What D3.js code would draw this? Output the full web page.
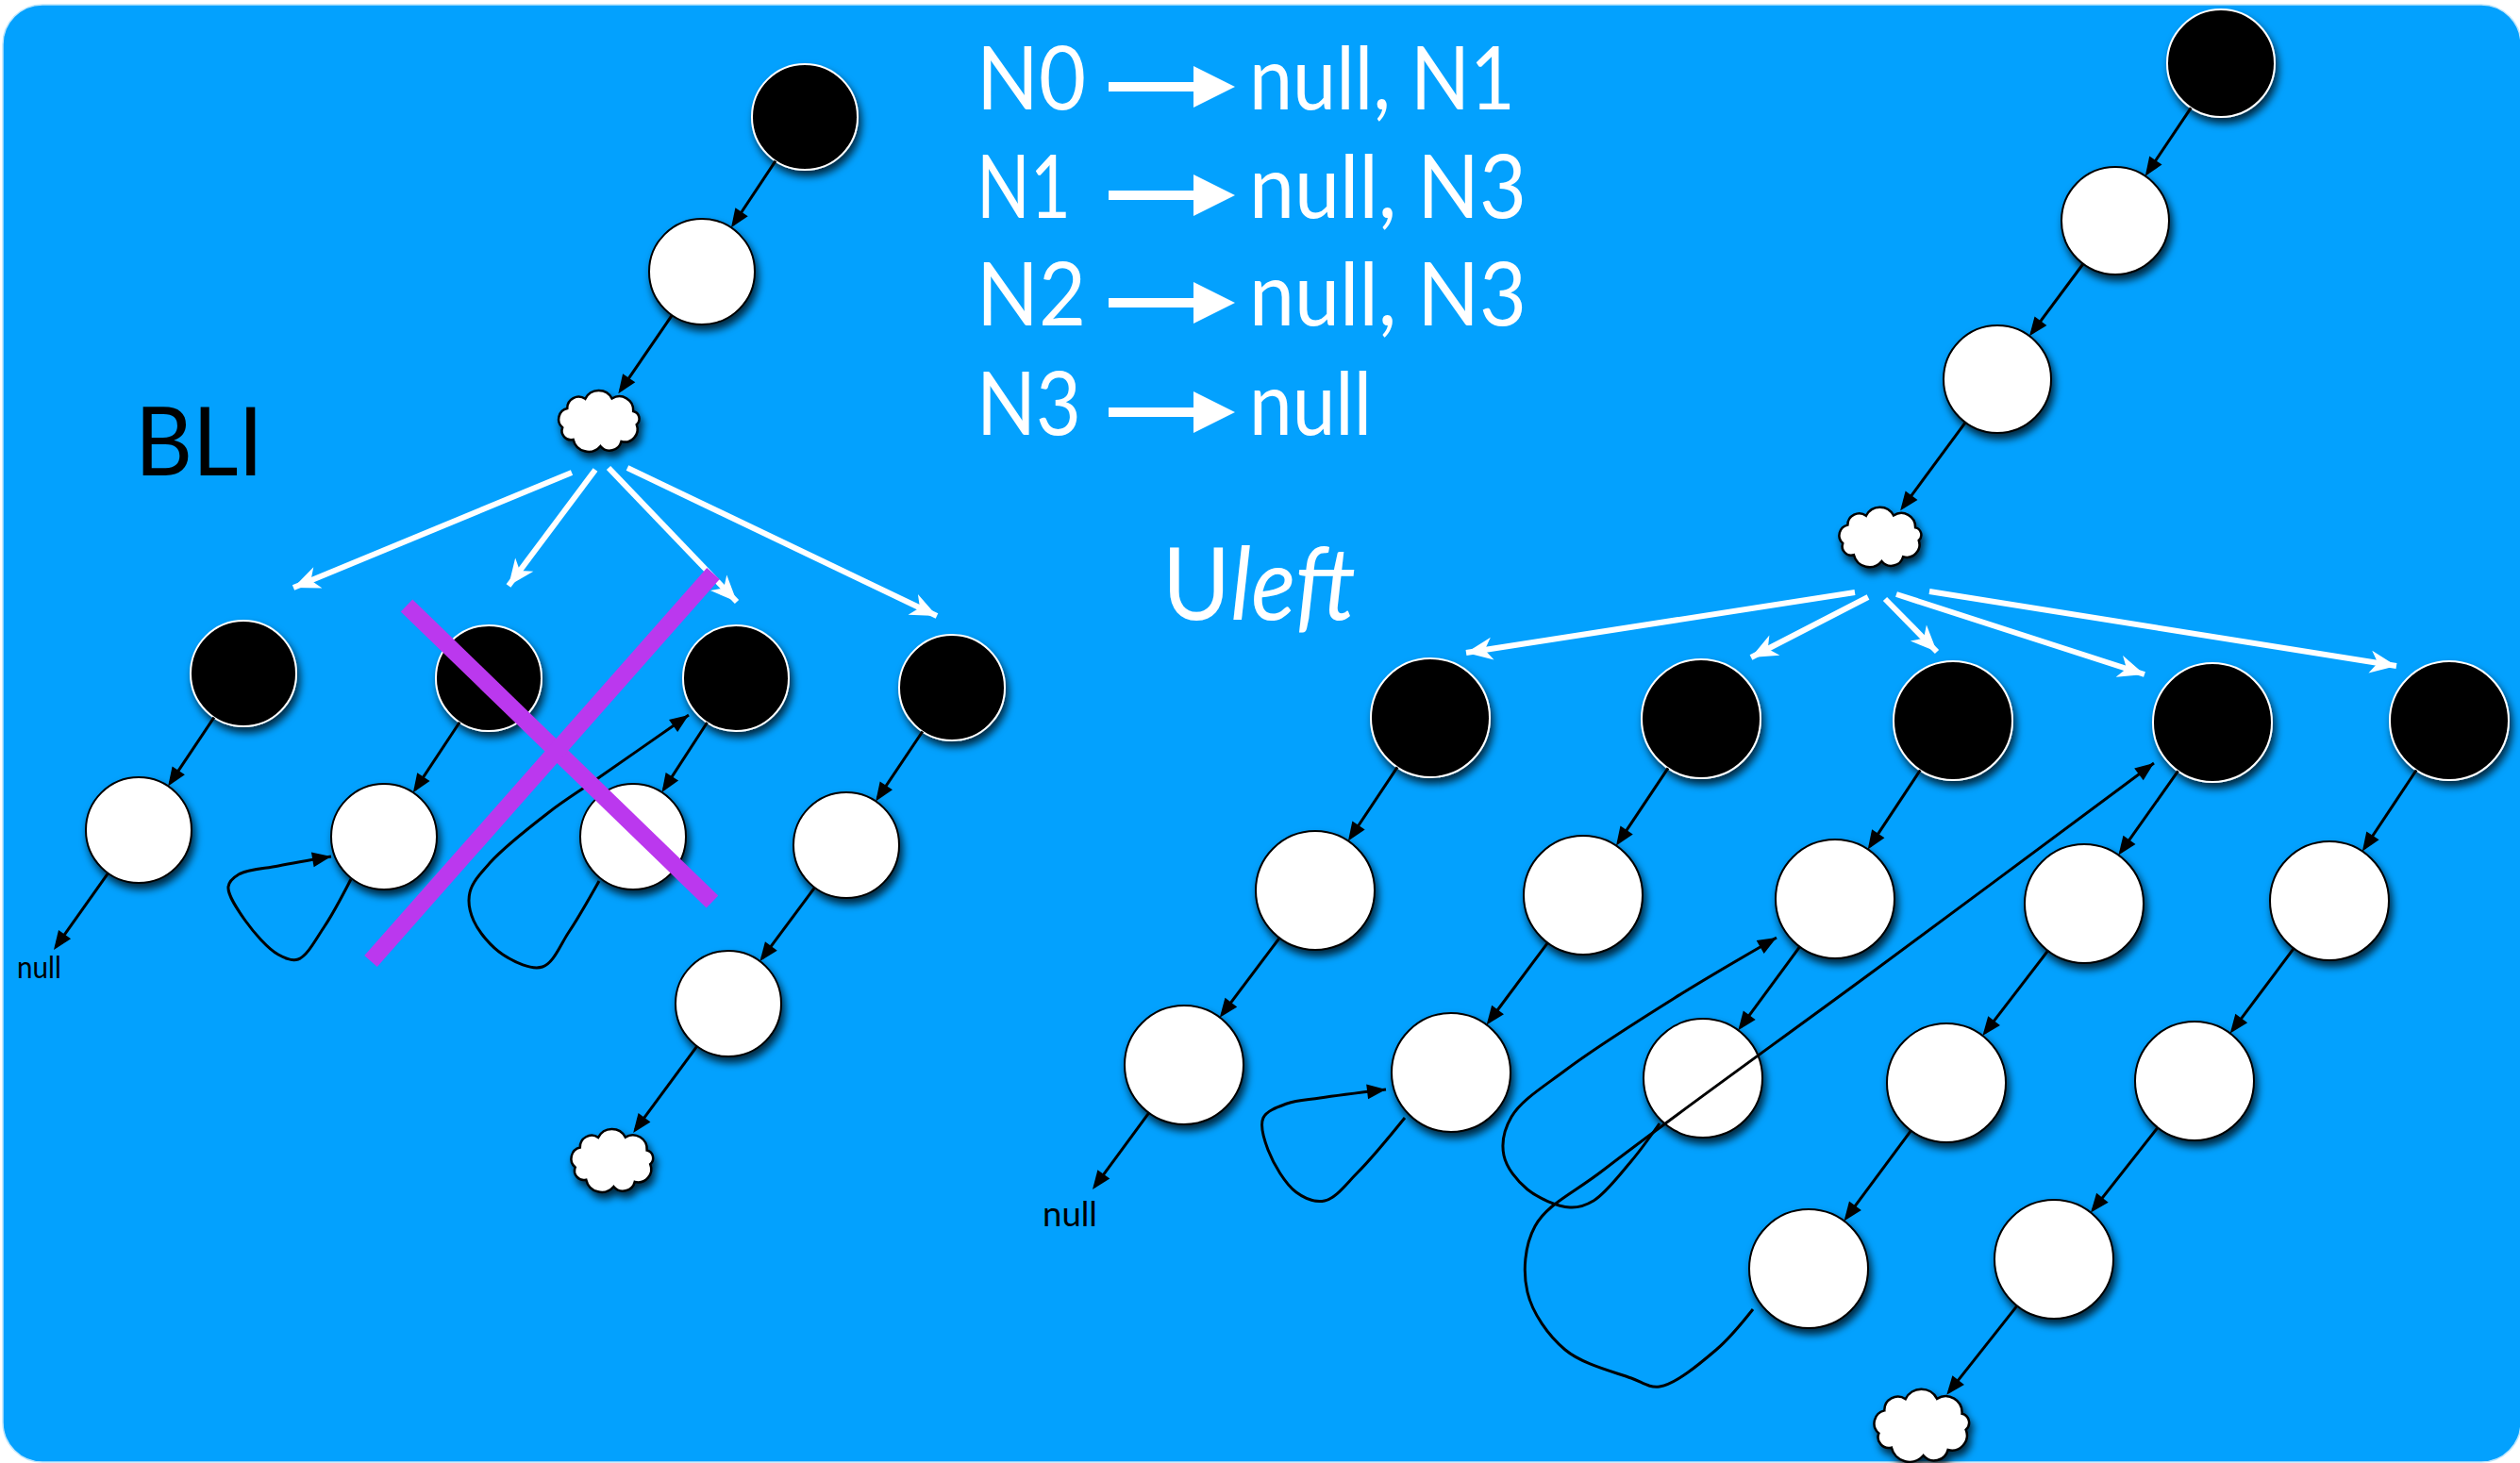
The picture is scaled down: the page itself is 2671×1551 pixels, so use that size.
<!DOCTYPE html>
<html>
<head>
<meta charset="utf-8">
<script src="https://cdn.jsdelivr.net/npm/d3@7"></script>
<style>
  html, body { margin: 0; padding: 0; background: #fff; }
  svg { display: block; }
</style>
</head>
<body>
<svg id="chart" width="2671" height="1551"></svg>
<script>
// ------------------------------------------------------------
// Data (slide units)
// ------------------------------------------------------------
const leftNodes = [
  { id: "L0", x: 853, y: 124, kind: "black" },
  { id: "L1", x: 744, y: 288, kind: "white" },
  { id: "Lc", x: 635, y: 447, kind: "cloud" },
  { id: "B1", x: 258, y: 714, kind: "black" },
  { id: "B2", x: 518, y: 719, kind: "black" },
  { id: "B3", x: 780, y: 719, kind: "black" },
  { id: "B4", x: 1009, y: 729, kind: "black" },
  { id: "W1", x: 147, y: 880, kind: "white" },
  { id: "W2", x: 407, y: 887, kind: "white" },
  { id: "W3", x: 671, y: 887, kind: "white" },
  { id: "W4", x: 897, y: 896, kind: "white" },
  { id: "W5", x: 772, y: 1064, kind: "white" },
  { id: "Lc2", x: 649, y: 1231, kind: "cloud" },
  { id: "nullL", x: 57, y: 1007, kind: "null" }
];

const rightTopNodes = [
  { id: "R0", x: 2354, y: 67, kind: "black" },
  { id: "R1", x: 2242, y: 234, kind: "white" },
  { id: "R2", x: 2117, y: 402, kind: "white" },
  { id: "Rc", x: 1993, y: 570, kind: "cloud" }
];

const rightNodes = [
  { id: "C1", x: 1516, y: 761, kind: "black" },
  { id: "C2", x: 1803, y: 762, kind: "black" },
  { id: "C3", x: 2070, y: 764, kind: "black" },
  { id: "C4", x: 2345, y: 766, kind: "black" },
  { id: "C5", x: 2596, y: 764, kind: "black" },
  { id: "a1", x: 1394, y: 944, kind: "white" },
  { id: "b1", x: 1678, y: 949, kind: "white" },
  { id: "c1", x: 1945, y: 953, kind: "white" },
  { id: "d1", x: 2209, y: 958, kind: "white" },
  { id: "e1", x: 2469, y: 955, kind: "white" },
  { id: "a2", x: 1255, y: 1129, kind: "white" },
  { id: "b2", x: 1538, y: 1137, kind: "white" },
  { id: "c2", x: 1805, y: 1143, kind: "white" },
  { id: "d2", x: 2063, y: 1148, kind: "white" },
  { id: "e2", x: 2326, y: 1146, kind: "white" },
  { id: "d3", x: 1917, y: 1345, kind: "white" },
  { id: "e3", x: 2177, y: 1335, kind: "white" },
  { id: "Rc2", x: 2037, y: 1512, kind: "cloud" },
  { id: "nullR", x: 1158, y: 1261, kind: "null" }
];

const edges = [
  ["L0", "L1"], ["L1", "Lc"],
  ["B1", "W1"], ["W1", "nullL"],
  ["B2", "W2"], ["B3", "W3"],
  ["B4", "W4"], ["W4", "W5"], ["W5", "Lc2"],
  ["R0", "R1"], ["R1", "R2"], ["R2", "Rc"],
  ["C1", "a1"], ["a1", "a2"], ["a2", "nullR"],
  ["C2", "b1"], ["b1", "b2"],
  ["C3", "c1"], ["c1", "c2"],
  ["C4", "d1"], ["d1", "d2"], ["d2", "d3"],
  ["C5", "e1"], ["e1", "e2"], ["e2", "e3"], ["e3", "Rc2"]
];

// white fan arrows out of the clouds: [x1, y1, x2, y2]
const leftFan = [
  [606, 501, 311, 623], [631, 498, 539, 621],
  [645, 496, 781, 638], [665, 496, 993, 653]
];
const rightFan = [
  [1966, 628, 1554, 692], [1980, 633, 1856, 697], [1998, 635, 2053, 691],
  [2010, 630, 2273, 715], [2045, 627, 2540, 706]
];

// back-pointer loops (points along each curve, last one is the arrow tip)
const loops = [
  [[372, 932], [344, 982], [316, 1017], [295, 1012], [260, 976], [242, 940], [253, 927], [295, 918], [351, 908]],
  [[635, 934], [603, 988], [575, 1025], [533, 1012], [502, 976], [498, 946], [519, 915], [582, 861], [631, 827], [730, 758]],
  [[1489, 1185], [1439, 1243], [1404, 1273], [1374, 1264], [1344, 1219], [1339, 1185], [1364, 1170], [1399, 1164], [1469, 1155]],
  [[1759, 1191], [1729, 1231], [1689, 1273], [1664, 1280], [1619, 1261], [1594, 1225], [1602, 1184], [1660, 1134], [1775, 1058], [1883, 994]],
  [[1858, 1388], [1819, 1431], [1759, 1470], [1729, 1461], [1659, 1431], [1619, 1370], [1627, 1300], [1700, 1240], [1992, 1025], [2283, 809]]
];

const crossLines = [[431, 642, 755, 956], [756, 608, 393, 1019]];

const mapLeft = ["N0", "N1", "N2", "N3"];
const mapRight = ["null, N1", "null, N3", "null, N3", "null"];

const nullLabels = [
  { text: "null", x: 18, y: 1037 },
  { text: "null", x: 1105, y: 1300 }
];

// ------------------------------------------------------------
// Styles / sizes
// ------------------------------------------------------------
const W = 2671, H = 1551;
const BLUE = "#03a1fe", PURPLE = "#bb38ee";
const FONT = "Lato, 'Open Sans', sans-serif";
const CLOUD_SIZE = { Lc: [94, 66], Lc2: [95, 68], Rc: [96, 64], Rc2: [108, 76] };
const rowBase = [116, 231, 345, 461];
const leftW = [116, 100, 116, 111], rightW = [282, 294, 294, 130];

const svg = d3.select("#chart");
const x = d3.scaleLinear().domain([0, 2671]).range([0, W]);
const y = d3.scaleLinear().domain([0, 1551]).range([0, H]);

function nodeR(n) {
  if (leftNodes.includes(n)) return 56;
  if (rightTopNodes.includes(n)) return 57;
  return 63;
}

function cloudPath(cx, cy, w, h) {
  const n = 9, rx = w / 2 - 7, ry = h / 2 - 7;
  const jitter = [0, 0.12, -0.08, 0.1, -0.05, 0.08, -0.1, 0.06, -0.04];
  const pts = d3.range(n).map(i => {
    const a = -Math.PI / 2 + (i + 0.5 + jitter[i]) * 2 * Math.PI / n;
    return [cx + rx * Math.cos(a), cy + ry * Math.sin(a)];
  });
  let p = `M${pts[0][0]},${pts[0][1]}`;
  for (let i = 0; i < n; i++) {
    const a = pts[i], b = pts[(i + 1) % n];
    const c = Math.hypot(b[0] - a[0], b[1] - a[1]) * 0.56;
    p += ` A${c},${c} 0 0 1 ${b[0]},${b[1]}`;
  }
  return p + "Z";
}

// ------------------------------------------------------------
// defs
// ------------------------------------------------------------
const defs = svg.append("defs");
const f = defs.append("filter").attr("id", "shadow")
  .attr("x", "-40%").attr("y", "-40%").attr("width", "180%").attr("height", "180%");
f.append("feDropShadow").attr("dx", 3).attr("dy", 6).attr("stdDeviation", 4)
  .attr("flood-color", "#000").attr("flood-opacity", 0.75);

defs.append("marker").attr("id", "ah")
  .attr("markerUnits", "userSpaceOnUse").attr("viewBox", "-22 -10 24 20")
  .attr("markerWidth", 24).attr("markerHeight", 20)
  .attr("refX", -4).attr("refY", 0).attr("orient", "auto")
  .append("path").attr("d", "M-20,-8 L0,0 L-20,8 Z").attr("fill", "#000");

defs.append("marker").attr("id", "ahLoop")
  .attr("markerUnits", "userSpaceOnUse").attr("viewBox", "-22 -10 24 20")
  .attr("markerWidth", 24).attr("markerHeight", 20)
  .attr("refX", 0).attr("refY", 0).attr("orient", "auto")
  .append("path").attr("d", "M-20,-8 L0,0 L-20,8 Z").attr("fill", "#000");

defs.append("marker").attr("id", "ahWhite")
  .attr("markerUnits", "userSpaceOnUse").attr("viewBox", "-30 -14 32 28")
  .attr("markerWidth", 32).attr("markerHeight", 28)
  .attr("refX", 0).attr("refY", 0).attr("orient", "auto")
  .append("path").attr("d", "M0,0 L-28,-12 L-20,0 L-28,12 Z").attr("fill", "#fff");

defs.append("marker").attr("id", "ahText")
  .attr("markerUnits", "userSpaceOnUse").attr("viewBox", "0 -23 46 46")
  .attr("markerWidth", 46).attr("markerHeight", 46)
  .attr("refX", 0).attr("refY", 0).attr("orient", "auto")
  .append("path").attr("d", "M0,-22 L44,0 L0,22 Z").attr("fill", "#fff");

// ------------------------------------------------------------
// background
// ------------------------------------------------------------
svg.append("rect")
  .attr("x", 3).attr("y", 5).attr("width", W - 2).attr("height", H - 6)
  .attr("rx", 42).attr("fill", BLUE)
  .attr("stroke", "#bfe6fc").attr("stroke-width", 1.5);

// ------------------------------------------------------------
// text
// ------------------------------------------------------------
const txt = svg.append("g").attr("font-family", FONT);

mapLeft.forEach((t, i) => {
  txt.append("text").attr("x", x(1035)).attr("y", y(rowBase[i]))
    .attr("font-size", 94).attr("fill", "#fff")
    .attr("textLength", leftW[i]).attr("lengthAdjust", "spacingAndGlyphs")
    .text(t);
  txt.append("line")
    .attr("x1", x(1175)).attr("x2", x(1265))
    .attr("y1", y(rowBase[i] - 24)).attr("y2", y(rowBase[i] - 24))
    .attr("stroke", "#fff").attr("stroke-width", 10)
    .attr("marker-end", "url(#ahText)");
  txt.append("text").attr("x", x(1324)).attr("y", y(rowBase[i]))
    .attr("font-size", 94).attr("fill", "#fff")
    .attr("textLength", rightW[i]).attr("lengthAdjust", "spacingAndGlyphs")
    .text(mapRight[i]);
});

txt.append("text").attr("x", x(143)).attr("y", y(504))
  .attr("font-size", 100).attr("fill", "#000")
  .attr("textLength", 136).attr("lengthAdjust", "spacingAndGlyphs")
  .text("BLI");

const ul = txt.append("text").attr("x", x(1232)).attr("y", y(657))
  .attr("font-size", 106).attr("fill", "#fff")
  .attr("textLength", 205).attr("lengthAdjust", "spacingAndGlyphs");
ul.append("tspan").text("U");
ul.append("tspan").attr("font-style", "italic").text("left");

nullLabels.forEach((d, i) => {
  txt.append("text").attr("x", x(d.x)).attr("y", y(d.y))
    .attr("font-size", i === 0 ? 33 : 37).attr("fill", "#000")
    .attr("textLength", i === 0 ? 47 : 58).attr("lengthAdjust", "spacingAndGlyphs")
    .text(d.text);
});

// ------------------------------------------------------------
// white fan arrows
// ------------------------------------------------------------
svg.append("g").selectAll("line").data([...leftFan, ...rightFan]).join("line")
  .attr("x1", d => x(d[0])).attr("y1", d => y(d[1]))
  .attr("x2", d => x(d[2])).attr("y2", d => y(d[3]))
  .attr("stroke", "#fff").attr("stroke-width", 6)
  .attr("marker-end", "url(#ahWhite)");

// ------------------------------------------------------------
// nodes
// ------------------------------------------------------------
const allNodes = [...leftNodes, ...rightTopNodes, ...rightNodes];
const byId = new Map(allNodes.map(n => [n.id, n]));

const nodeG = svg.append("g");
allNodes.filter(n => n.kind === "black" || n.kind === "white").forEach(n => {
  nodeG.append("circle")
    .attr("cx", x(n.x)).attr("cy", y(n.y)).attr("r", nodeR(n))
    .attr("fill", n.kind === "black" ? "#000" : "#fff")
    .attr("stroke", n.kind === "black" ? "#fff" : "#000")
    .attr("stroke-width", 2)
    .attr("filter", "url(#shadow)");
});
allNodes.filter(n => n.kind === "cloud").forEach(n => {
  const s = CLOUD_SIZE[n.id];
  nodeG.append("path")
    .attr("d", cloudPath(x(n.x), y(n.y), s[0], s[1]))
    .attr("fill", "#fff").attr("stroke", "#000").attr("stroke-width", 2.5)
    .attr("filter", "url(#shadow)");
});

// ------------------------------------------------------------
// pointer edges
// ------------------------------------------------------------
function reach(n, ux, uy) {
  if (n.kind === "null") return 0;
  if (n.kind === "cloud") {
    const s = CLOUD_SIZE[n.id];
    return 1 / Math.sqrt((ux / (s[0] / 2)) ** 2 + (uy / (s[1] / 2)) ** 2);
  }
  return nodeR(n);
}

const edgeG = svg.append("g");
edges.forEach(([a, b]) => {
  const s = byId.get(a), t = byId.get(b);
  const dx = x(t.x) - x(s.x), dy = y(t.y) - y(s.y);
  const len = Math.hypot(dx, dy), ux = dx / len, uy = dy / len;
  const r0 = reach(s, ux, uy), r1 = reach(t, ux, uy);
  edgeG.append("line")
    .attr("x1", x(s.x) + ux * r0).attr("y1", y(s.y) + uy * r0)
    .attr("x2", x(t.x) - ux * (r1 + 4)).attr("y2", y(t.y) - uy * (r1 + 4))
    .attr("stroke", "#000").attr("stroke-width", 3)
    .attr("marker-end", "url(#ah)");
});

const curve = d3.line().x(d => x(d[0])).y(d => y(d[1]))
  .curve(d3.curveCatmullRom.alpha(0.5));
svg.append("g").selectAll("path").data(loops).join("path")
  .attr("d", curve)
  .attr("fill", "none").attr("stroke", "#000").attr("stroke-width", 3)
  .attr("marker-end", "url(#ahLoop)");

// ------------------------------------------------------------
// purple cross
// ------------------------------------------------------------
svg.append("g").selectAll("line").data(crossLines).join("line")
  .attr("x1", d => x(d[0])).attr("y1", d => y(d[1]))
  .attr("x2", d => x(d[2])).attr("y2", d => y(d[3]))
  .attr("stroke", PURPLE).attr("stroke-width", 18);
</script>
</body>
</html>
